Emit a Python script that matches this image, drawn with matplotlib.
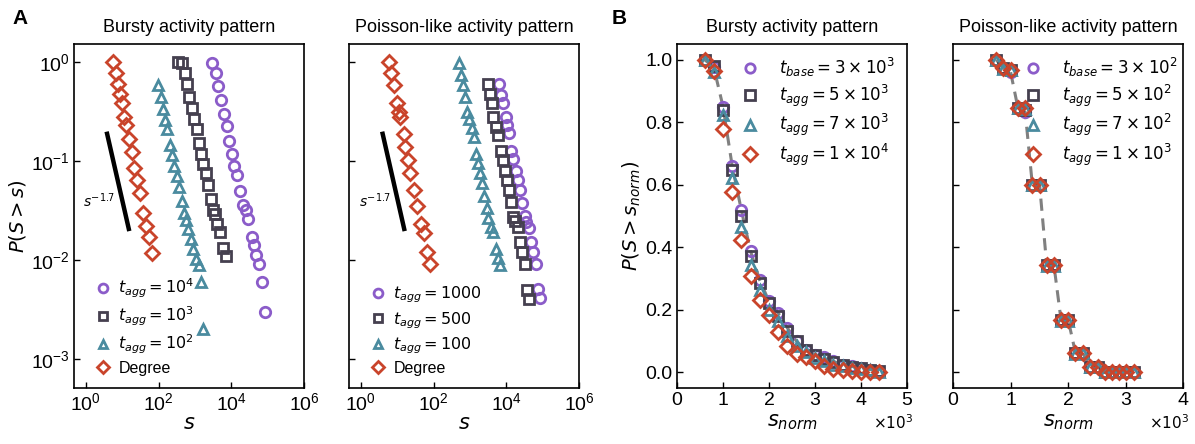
import matplotlib
matplotlib.use("Agg")
import matplotlib.pyplot as plt
from matplotlib.ticker import FixedLocator

plt.rcParams['font.family'] = ['Liberation Sans', 'DejaVu Sans']
plt.rcParams['mathtext.fontset'] = 'dejavusans'

# colours of the four series
PURPLE = '#8b5cc9'
DARK = '#45404f'
TEAL = '#4a8b9f'
RED = '#c9442b'

# ---- panel A, bursty ----
burst_deg_s = [5.6, 6.7, 7.8, 8.7, 9.6, 11.1, 12.6, 15.5, 18.0, 21, 24.7, 30.6, 37.9, 43.8, 54, 65]
burst_deg_p = [1.0, 0.77, 0.60, 0.475, 0.383, 0.28, 0.231, 0.166, 0.124, 0.0857, 0.0644, 0.0478,
               0.0296, 0.022, 0.0169, 0.0119]
burst_t2_s = [96, 114, 129, 147, 174, 205, 233, 264, 314, 371, 430, 499, 562, 654, 755, 895, 1062,
              1259, 1433, 1698]
burst_t2_p = [0.586, 0.44, 0.333, 0.26, 0.209, 0.145, 0.115, 0.0898, 0.0711, 0.055, 0.0398, 0.0301,
              0.0254, 0.0207, 0.0162, 0.0128, 0.0102, 0.0089, 0.006, 0.002]
burst_t3_s = [347, 430, 528, 616, 697, 810, 937, 1110, 1318, 1462, 1694, 1967, 2338, 2716, 3077,
              3552, 4121, 4875, 5768, 6963]
burst_t3_p = [1.0, 0.97, 0.77, 0.595, 0.447, 0.34, 0.266, 0.209, 0.151, 0.118, 0.0925, 0.075,
              0.0572, 0.041, 0.032, 0.0289, 0.0231, 0.0193, 0.0131, 0.011]
burst_t4_s = [3007, 3700, 4376, 5063, 6284, 7434, 8600, 10180, 12045, 14570, 17240, 21300, 24640,
              29150, 35990, 41590, 49220, 56880, 70210, 83080]
burst_t4_p = [0.97, 0.78, 0.573, 0.413, 0.296, 0.227, 0.16, 0.118, 0.0897, 0.0722, 0.0501, 0.036,
              0.032, 0.026, 0.0172, 0.0142, 0.0112, 0.00904, 0.00604, 0.003]

# ---- panel A, poisson ----
pois_deg_s = [5.85, 6.78, 8.02, 9.9, 11.0, 11.7, 15.1, 16.7, 19.4, 22.0, 29.5, 34.9, 45, 53, 65.7, 81]
pois_deg_p = [1.0, 0.77, 0.586, 0.383, 0.315, 0.276, 0.186, 0.14, 0.102, 0.075, 0.0509, 0.0351,
              0.0231, 0.0186, 0.0121, 0.00904]
pois_t2_s = [494, 562, 638, 722, 818, 966, 1112, 1298, 1468, 1702, 1895, 2160, 2456, 2907, 3225,
             3729, 4217, 5140, 5800, 6700]
pois_t2_p = [0.985, 0.739, 0.586, 0.44, 0.315, 0.266, 0.214, 0.173, 0.119, 0.0962, 0.075, 0.0594,
             0.0443, 0.0333, 0.0264, 0.0217, 0.0193, 0.0128, 0.0106, 0.0089]
pois_t3_s = [3081, 3550, 3960, 4400, 5090, 6000, 7090, 8210, 9500, 10550, 11960, 13860, 15390,
             17080, 21050, 23370, 27640, 32000, 37000, 42100]
pois_t3_p = [0.595, 0.471, 0.383, 0.276, 0.222, 0.183, 0.127, 0.102, 0.0799, 0.0643, 0.0509,
             0.0383, 0.0274, 0.0248, 0.0217, 0.0151, 0.0121, 0.00904, 0.00498, 0.00404]
pois_t4_s = [6400, 7090, 8210, 9570, 10620, 12040, 13860, 15390, 18180, 21050, 24400, 27640,
             32000, 35500, 42100, 48800, 54200, 64200, 74400, 82700]
pois_t4_p = [0.595, 0.464, 0.383, 0.276, 0.231, 0.19, 0.127, 0.104, 0.0799, 0.0643, 0.0509, 0.038,
             0.0278, 0.0244, 0.0212, 0.0151, 0.0121, 0.00904, 0.00506, 0.0041]

# guide lines s^-1.7
burst_guide_s = [3.71, 15.6]
pois_guide_s = [3.84, 16.0]
guide_p = [0.198, 0.0196]

# ---- panel B, bursty ----
bnorm_s = [600, 800, 1000, 1200, 1400, 1600, 1800, 2000, 2200, 2400, 2600, 2800, 3000, 3200,
           3400, 3600, 3800, 4000, 4200, 4400]
bnorm_base = [1.0, 0.975, 0.85, 0.66, 0.518, 0.387, 0.294, 0.227, 0.19, 0.142, 0.099, 0.072,
              0.057, 0.048, 0.035, 0.025, 0.019, 0.014, 0.009, 0.003]
bnorm_5 = [1.0, 0.979, 0.84, 0.646, 0.50, 0.371, 0.286, 0.222, 0.179, 0.133, 0.099, 0.07, 0.057,
           0.043, 0.032, 0.022, 0.017, 0.013, 0.009, 0.003]
bnorm_7 = [0.998, 0.96, 0.824, 0.622, 0.465, 0.344, 0.262, 0.2, 0.163, 0.115, 0.083, 0.064,
           0.046, 0.035, 0.025, 0.019, 0.014, 0.011, 0.006, 0.002]
bnorm_10 = [1.0, 0.963, 0.778, 0.576, 0.422, 0.309, 0.232, 0.184, 0.128, 0.083, 0.06, 0.049,
            0.035, 0.021, 0.011, 0.006, 0.003, 0.002, 0.001, 0.0]

# ---- panel B, poisson ----
pnorm_s = [750, 876, 1000, 1130, 1256, 1380, 1506, 1630, 1756, 1880, 2006, 2130, 2256, 2390,
           2516, 2640, 2766, 2890, 3016, 3140]
pnorm_base = [1.0, 0.972, 0.962, 0.845, 0.832, 0.60, 0.60, 0.342, 0.342, 0.166, 0.166, 0.062,
              0.062, 0.017, 0.017, 0.0, 0.0, 0.0, 0.0, 0.0]
pnorm_5 = [1.0, 0.973, 0.968, 0.846, 0.84, 0.60, 0.60, 0.342, 0.342, 0.166, 0.166, 0.062, 0.062,
           0.017, 0.017, 0.0, 0.0, 0.0, 0.0, 0.0]
pnorm_7 = [0.998, 0.970, 0.968, 0.845, 0.842, 0.60, 0.598, 0.34, 0.34, 0.164, 0.165, 0.06, 0.061,
           0.016, 0.016, 0.0, 0.0, 0.0, 0.0, 0.0]
pnorm_10 = [1.0, 0.973, 0.968, 0.845, 0.845, 0.60, 0.60, 0.342, 0.342, 0.166, 0.166, 0.062,
            0.062, 0.017, 0.017, 0.0, 0.0, 0.0, 0.0, 0.0]

mk = dict(linestyle='none', markerfacecolor='none', markeredgewidth=2.0)
MARKERS = ['o', 's', '^', 'D']
COLORS = [PURPLE, DARK, TEAL, RED]

fig = plt.figure(figsize=(11.95, 4.44), dpi=100)
w, h, b = 230 / 1195, 344 / 444, 56 / 444
ax1 = fig.add_axes([74 / 1195, b, w, h])
ax2 = fig.add_axes([349 / 1195, b, w, h])
ax3 = fig.add_axes([677 / 1195, b, w, h])
ax4 = fig.add_axes([953 / 1195, b, w, h])


def log_panel(ax, series, labels, guide_s, title, show_ylabel):
    for (s, p), lab, m, c in zip(series, labels, MARKERS, COLORS):
        ax.plot(s, p, marker=m, color=c, markersize=7.5, label=lab, **mk)
    ax.plot(guide_s, guide_p, color='black', lw=3.2, solid_capstyle='butt')
    ax.text(guide_s[0] * 0.63, 0.04, r'$s^{-1.7}$', fontsize=10, ha='center', va='center')
    ax.set_xscale('log')
    ax.set_yscale('log')
    ax.set_xlim(0.47, 1e6)
    ax.set_ylim(5.1e-4, 1.52)
    ax.xaxis.set_major_locator(FixedLocator([1, 1e2, 1e4, 1e6]))
    ax.yaxis.set_major_locator(FixedLocator([1e-3, 1e-2, 1e-1, 1]))
    ax.xaxis.set_minor_locator(plt.NullLocator())
    ax.yaxis.set_minor_locator(plt.NullLocator())
    ax.set_xlabel(r'$s$', fontsize=15, labelpad=0)
    if show_ylabel:
        ax.set_ylabel(r'$P(S > s)$', fontsize=14, labelpad=2)
    else:
        ax.tick_params(labelleft=False)
    ax.set_title(title, fontsize=13, pad=9)
    ax.legend(loc='lower left', bbox_to_anchor=(0.085, 0.035), frameon=False, fontsize=11.5,
              handletextpad=0.35, labelspacing=0.3, handlelength=1.2, markerscale=0.85,
              borderaxespad=0, borderpad=0)


def lin_panel(ax, series, labels, xmax, title, show_ylabel, leg_x):
    s0 = series[0]
    ax.plot(s0[0], s0[1], color='gray', lw=2.2, ls=(0, (4, 2.5)), zorder=1)
    for (s, p), lab, m, c in zip(series, labels, MARKERS, COLORS):
        ax.plot(s, p, marker=m, color=c, markersize=7.5, label=lab, **mk)
    ax.set_xlim(0, xmax)
    ax.set_ylim(-0.05, 1.05)
    ax.set_yticks([0, 0.2, 0.4, 0.6, 0.8, 1.0])
    ax.set_xticks(list(range(0, xmax + 1, 1000)))
    ax.set_xticklabels([str(v // 1000) for v in range(0, xmax + 1, 1000)])
    ax.text(1.025, -0.1, r'$\times 10^3$', transform=ax.transAxes, ha='right', va='center',
            fontsize=11)
    ax.set_xlabel(r'$s_{norm}$', fontsize=15, labelpad=2)
    if show_ylabel:
        ax.set_ylabel(r'$P(S > s_{norm})$', fontsize=14, labelpad=2)
        ax.yaxis.set_major_formatter(plt.FormatStrFormatter('%.1f'))
    else:
        ax.tick_params(labelleft=False)
    ax.set_title(title, fontsize=13, pad=9)
    ax.legend(loc='upper left', bbox_to_anchor=(leg_x, 0.965), frameon=False, fontsize=12,
              handletextpad=1.2, labelspacing=0.2, handlelength=1.0, markerscale=0.9,
              borderaxespad=0, borderpad=0)


log_panel(ax1,
          [(burst_t4_s, burst_t4_p), (burst_t3_s, burst_t3_p), (burst_t2_s, burst_t2_p),
           (burst_deg_s, burst_deg_p)],
          [r'$t_{agg}=10^4$', r'$t_{agg}=10^3$', r'$t_{agg}=10^2$', 'Degree'],
          burst_guide_s, 'Bursty activity pattern', True)
log_panel(ax2,
          [(pois_t4_s, pois_t4_p), (pois_t3_s, pois_t3_p), (pois_t2_s, pois_t2_p),
           (pois_deg_s, pois_deg_p)],
          [r'$t_{agg}=1000$', r'$t_{agg}=500$', r'$t_{agg}=100$', 'Degree'],
          pois_guide_s, 'Poisson-like activity pattern', False)
lin_panel(ax3,
          [(bnorm_s, bnorm_base), (bnorm_s, bnorm_5), (bnorm_s, bnorm_7), (bnorm_s, bnorm_10)],
          [r'$t_{base}=3\times10^3$', r'$t_{agg}=5\times10^3$', r'$t_{agg}=7\times10^3$',
           r'$t_{agg}=1\times10^4$'],
          5000, 'Bursty activity pattern', True, 0.283)
lin_panel(ax4,
          [(pnorm_s, pnorm_base), (pnorm_s, pnorm_5), (pnorm_s, pnorm_7), (pnorm_s, pnorm_10)],
          [r'$t_{base}=3\times10^2$', r'$t_{agg}=5\times10^2$', r'$t_{agg}=7\times10^2$',
           r'$t_{agg}=1\times10^3$'],
          4000, 'Poisson-like activity pattern', False, 0.313)

for ax in (ax1, ax2, ax3, ax4):
    ax.tick_params(direction='in', labelsize=14, length=4, width=1, pad=3,
                   top=False, right=False)
    for sp in ax.spines.values():
        sp.set_linewidth(1.2)

fig.text(12 / 1195, 1 - 18 / 444, 'A', fontsize=15, fontweight='bold', va='center')
fig.text(612 / 1195, 1 - 18 / 444, 'B', fontsize=15, fontweight='bold', va='center')

fig.savefig('out.png', dpi=100)
